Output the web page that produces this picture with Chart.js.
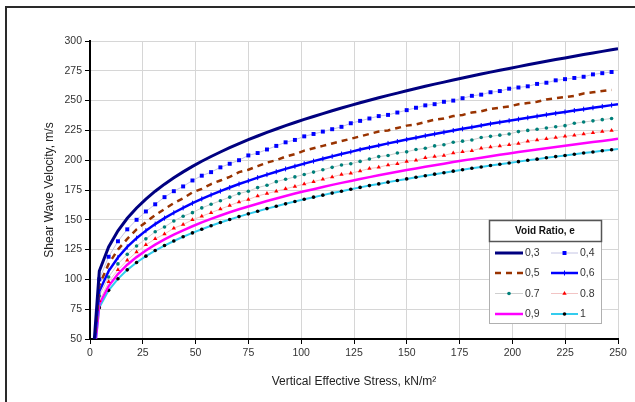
<!DOCTYPE html>
<html>
<head>
<meta charset="utf-8">
<title>Shear Wave Velocity vs Vertical Effective Stress</title>
<script src="https://cdn.jsdelivr.net/npm/chart.js@4"></script>
<style>
    html, body { margin: 0; padding: 0; background: #fff; }
    #chart { display: block; }
</style>
</head>
<body>
<canvas id="chart" width="635" height="402"></canvas>
<script>
"use strict";

/* vertical effective stress, kN/m2 (shared by all curves) */
const stress = [
    0, 4.41, 8.82, 13.23, 17.64, 22.05, 26.46, 30.87, 35.28, 39.69,
    44.1, 48.51, 52.92, 57.33, 61.74, 66.15, 70.56, 74.97, 79.38, 83.79,
    88.2, 92.61, 97.02, 101.43, 105.84, 110.25, 114.66, 119.07, 123.48, 127.89,
    132.3, 136.71, 141.12, 145.53, 149.94, 154.35, 158.76, 163.17, 167.58, 171.99,
    176.4, 180.81, 185.22, 189.63, 194.04, 198.45, 202.86, 207.27, 211.68, 216.09,
    220.5, 224.91, 229.32, 233.73, 238.14, 242.55, 246.96, 250
];

/* shear wave velocity, m/s, one array per void ratio */
const vs03 = [
    0, 107.0, 127.2, 140.8, 151.3, 159.9, 167.4, 174.0, 179.9, 185.2,
    190.2, 194.8, 199.1, 203.1, 206.9, 210.5, 213.9, 217.2, 220.3, 223.3,
    226.2, 229.0, 231.6, 234.2, 236.7, 239.1, 241.5, 243.8, 246.0, 248.2,
    250.3, 252.4, 254.4, 256.3, 258.3, 260.1, 262.0, 263.8, 265.5, 267.3,
    269.0, 270.6, 272.3, 273.9, 275.5, 277.0, 278.5, 280.0, 281.5, 283.0,
    284.4, 285.8, 287.2, 288.6, 289.9, 291.3, 292.6, 293.5
];
const vs04 = [
    0, 100, 119, 132, 142, 150, 157, 163, 169, 174,
    178, 183, 187, 190, 194, 197, 200, 204, 206, 209,
    212, 215, 217, 220, 222, 224, 226, 228, 231, 233,
    235, 237, 238, 240, 242, 244, 246, 247, 249, 250,
    252, 254, 255, 257, 258, 260, 261, 262, 264, 265,
    267, 268, 269, 270, 272, 273, 274
];
const vs05 = [
    0, 95, 113, 125, 134, 142, 148, 154, 159, 164,
    168, 173, 176, 180, 183, 186, 190, 192, 195, 198,
    200, 203, 205, 208, 210, 212, 214, 216, 218, 220,
    222, 224, 225, 227, 229, 230, 232, 234, 235, 237,
    238, 240, 241, 243, 244, 245, 247, 248, 249, 251,
    252, 253, 254, 256, 257, 258, 259
];
const vs06 = [
    0, 90.0, 107.0, 118.4, 127.3, 134.6, 140.9, 146.4, 151.4, 155.9,
    160.0, 163.9, 167.5, 170.9, 174.1, 177.1, 180.0, 182.7, 185.4, 187.9,
    190.3, 192.7, 194.9, 197.1, 199.2, 201.2, 203.2, 205.2, 207.0, 208.9,
    210.6, 212.4, 214.1, 215.7, 217.3, 218.9, 220.5, 222.0, 223.5, 224.9,
    226.3, 227.7, 229.1, 230.5, 231.8, 233.1, 234.4, 235.6, 236.9, 238.1,
    239.3, 240.5, 241.7, 242.8, 244.0, 245.1, 246.2, 247.0
];
const vs07 = [
    0, 86, 102, 113, 121, 128, 134, 140, 144, 149,
    153, 156, 160, 163, 166, 169, 172, 174, 177, 179,
    182, 184, 186, 188, 190, 192, 194, 196, 197, 199,
    201, 203, 204, 206, 207, 209, 210, 212, 213, 215,
    216, 217, 219, 220, 221, 222, 224, 225, 226, 227,
    228, 229, 231, 232, 233, 234, 235
];
const vs08 = [
    0, 82, 98, 108, 116, 123, 129, 134, 138, 143,
    146, 150, 153, 156, 159, 162, 165, 167, 170, 172,
    174, 176, 178, 180, 182, 184, 186, 188, 189, 191,
    193, 194, 196, 197, 199, 200, 202, 203, 204, 206,
    207, 208, 210, 211, 212, 213, 214, 216, 217, 218,
    219, 220, 221, 222, 223, 224, 225
];
const vs09 = [
    0, 79.4, 94.4, 104.5, 112.3, 118.7, 124.3, 129.2, 133.5, 137.5,
    141.2, 144.6, 147.8, 150.8, 153.6, 156.3, 158.8, 161.2, 163.5, 165.8,
    167.9, 170.0, 172.0, 173.9, 175.7, 177.5, 179.3, 181.0, 182.6, 184.3,
    185.8, 187.4, 188.8, 190.3, 191.7, 193.1, 194.5, 195.8, 197.1, 198.4,
    199.7, 200.9, 202.1, 203.3, 204.5, 205.6, 206.8, 207.9, 209.0, 210.1,
    211.1, 212.2, 213.2, 214.2, 215.2, 216.2, 217.2, 218.0
];
const vs10 = [
    0, 76.3, 90.8, 100.5, 108.0, 114.2, 119.5, 124.2, 128.4, 132.2,
    135.8, 139.0, 142.1, 145.0, 147.7, 150.2, 152.7, 155.0, 157.2, 159.4,
    161.4, 163.4, 165.3, 167.2, 169.0, 170.7, 172.4, 174.0, 175.6, 177.2,
    178.7, 180.1, 181.6, 183.0, 184.3, 185.7, 187.0, 188.3, 189.5, 190.8,
    192.0, 193.2, 194.3, 195.5, 196.6, 197.7, 198.8, 199.9, 200.9, 202.0,
    203.0, 204.0, 205.0, 206.0, 206.9, 207.9, 208.8, 209.5
];

const xTicks = [0, 25, 50, 75, 100, 125, 150, 175, 200, 225, 250];
const yTicks = [50, 75, 100, 125, 150, 175, 200, 225, 250, 275, 300];
const legendLabels = ['0,3', '0,4', '0,5', '0,6', '0.7', '0.8', '0,9', '1'];

/* pairs the shared stress array with one velocity array. */
const toPoints = (vals) => stress
    .map((x, i) => ({ x: x, y: vals[i] }))
    .filter(p => p.y !== undefined);

const lastHidden = (r) => (ctx) => ctx.dataIndex === ctx.dataset.data.length - 1 ? 0 : r;

const datasets = [
    { data: toPoints(vs03), borderColor: '#000080', borderWidth: 3, pointRadius: 0 },
    { data: toPoints(vs04), borderColor: '#c4c4e4', borderWidth: 1,
      pointStyle: 'rect', pointRadius: 2.8, pointBackgroundColor: '#0000ff', pointBorderColor: '#0000ff', pointBorderWidth: 0 },
    { data: toPoints(vs05), borderColor: '#993300', borderWidth: 2.5, borderDash: [6, 5], pointRadius: 0 },
    { data: toPoints(vs06), borderColor: '#0000ff', borderWidth: 2.5,
      pointStyle: 'line', pointRotation: 90, pointRadius: lastHidden(2.5), pointBorderColor: '#0000ff', pointBorderWidth: 1 },
    { data: toPoints(vs07), borderColor: '#cfcfcf', borderWidth: 1,
      pointStyle: 'circle', pointRadius: 1.8, pointBackgroundColor: '#00807a', pointBorderColor: '#00807a', pointBorderWidth: 0 },
    { data: toPoints(vs08), borderColor: '#f2c4c4', borderWidth: 1,
      pointStyle: 'triangle', pointRadius: 2.5, pointBackgroundColor: '#ff0000', pointBorderColor: '#ff0000', pointBorderWidth: 0 },
    { data: toPoints(vs09), borderColor: '#ff00ff', borderWidth: 2.5, pointRadius: 0 },
    { data: toPoints(vs10), borderColor: '#33ccee', borderWidth: 2,
      pointStyle: 'circle', pointRadius: lastHidden(1.8), pointBackgroundColor: '#000', pointBorderColor: '#000', pointBorderWidth: 0 }
].map((d, i) => Object.assign({ label: legendLabels[i], fill: false, tension: 0 }, d));

/* white page with the thin outer frame (top and left edges only). */
const framePlugin = {
    id: 'frame',
    beforeDraw: (chart) => {
        const ctx = chart.ctx;
        ctx.save();
        ctx.fillStyle = '#fff';
        ctx.fillRect(0, 0, chart.width, chart.height);
        ctx.strokeStyle = '#2a2a2a';
        ctx.lineWidth = 2;
        ctx.beginPath();
        ctx.moveTo(6, chart.height);
        ctx.lineTo(6, 7);
        ctx.lineTo(chart.width, 7);
        ctx.stroke();
        ctx.restore();
    }
};

/* the boxed "Void Ratio, e" legend, samples taken from the dataset styles. */
const voidLegendPlugin = {
    id: 'voidLegend',
    afterDraw: (chart) => {
        const ctx = chart.ctx;
        const box = { l: 489, t: 220, r: 601, b: 323 };
        ctx.save();
        ctx.fillStyle = '#fff';
        ctx.fillRect(box.l, box.t, box.r - box.l, box.b - box.t);
        ctx.strokeStyle = '#b0b0b0';
        ctx.lineWidth = 1;
        ctx.strokeRect(box.l + 0.5, box.t + 0.5, box.r - box.l, box.b - box.t);
        ctx.strokeStyle = '#555';
        ctx.lineWidth = 1.5;
        ctx.strokeRect(box.l + 0.5, box.t + 0.5, box.r - box.l, 21);

        ctx.fillStyle = '#111';
        ctx.font = 'bold 10px "Liberation Sans", Arial, sans-serif';
        ctx.textAlign = 'center';
        ctx.textBaseline = 'middle';
        ctx.fillText('Void Ratio, e', (box.l + box.r) / 2, box.t + 11.5);

        const rows = [253, 273, 293.5, 314];
        const cols = [{ x0: 495, x1: 523 }, { x0: 551, x1: 578 }];
        ctx.font = '10.5px "Liberation Sans", Arial, sans-serif';
        ctx.textAlign = 'left';
        chart.data.datasets.forEach((ds, i) => {
            const y = rows[Math.floor(i / 2)];
            const c = cols[i % 2];
            ctx.save();
            ctx.strokeStyle = ds.borderColor;
            ctx.lineWidth = ds.borderWidth;
            ctx.setLineDash(ds.borderDash || []);
            ctx.beginPath();
            ctx.moveTo(c.x0, y);
            ctx.lineTo(c.x1, y);
            ctx.stroke();
            ctx.restore();
            const r = typeof ds.pointRadius === 'function' ? ds.pointRadius({ dataIndex: -1, dataset: ds }) : ds.pointRadius;
            if (r > 0) {
                ctx.fillStyle = ds.pointBackgroundColor || ds.pointBorderColor;
                ctx.strokeStyle = ds.pointBorderColor;
                ctx.lineWidth = ds.pointBorderWidth || 0.01;
                Chart.helpers.drawPoint(ctx, {
                    pointStyle: ds.pointStyle, rotation: ds.pointRotation || 0,
                    radius: r, borderWidth: ds.pointBorderWidth || 0
                }, (c.x0 + c.x1) / 2, y);
            }
            ctx.fillStyle = '#333';
            ctx.fillText(ds.label, c.x1 + 2, y + 0.5);
        });
        ctx.restore();
    }
};

Chart.defaults.font.family = '"Liberation Sans", Arial, sans-serif';
Chart.defaults.color = '#333';

const ctx = document.getElementById('chart').getContext('2d');
new Chart(ctx, {
    type: 'line',
    data: { datasets: datasets },
    plugins: [framePlugin, voidLegendPlugin],
    options: {
        responsive: false,
        animation: false,
        devicePixelRatio: 1,
        layout: { padding: { top: 41, right: 17, bottom: 0, left: 0 } },
        plugins: {
            legend: { display: false },
            tooltip: { enabled: false }
        },
        scales: {
            x: {
                type: 'linear',
                min: 0,
                max: 250,
                afterFit: (scale) => { scale.height = 63; },
                afterBuildTicks: (scale) => { scale.ticks = xTicks.map(v => ({ value: v })); },
                ticks: { font: { size: 10.5 }, color: '#333', padding: 3, maxRotation: 0 },
                grid: { color: '#d6d6d6', lineWidth: 1, tickColor: '#000', tickLength: 5 },
                border: { color: '#000', width: 2 },
                title: {
                    display: true,
                    text: 'Vertical Effective Stress, kN/m²',
                    font: { size: 12 },
                    color: '#222',
                    padding: { top: 0, bottom: 13 }
                }
            },
            y: {
                type: 'linear',
                min: 50,
                max: 300,
                afterFit: (scale) => { scale.width = 90; },
                afterBuildTicks: (scale) => { scale.ticks = yTicks.map(v => ({ value: v })); },
                ticks: { font: { size: 10.5 }, color: '#333', padding: 3 },
                grid: { color: '#d6d6d6', lineWidth: 1, tickColor: '#000', tickLength: 5 },
                border: { color: '#000', width: 2 },
                title: {
                    display: true,
                    text: 'Shear Wave Velocity, m/s',
                    font: { size: 12 },
                    color: '#222',
                    padding: { top: 42, bottom: 0 }
                }
            }
        }
    }
});
</script>
</body>
</html>
